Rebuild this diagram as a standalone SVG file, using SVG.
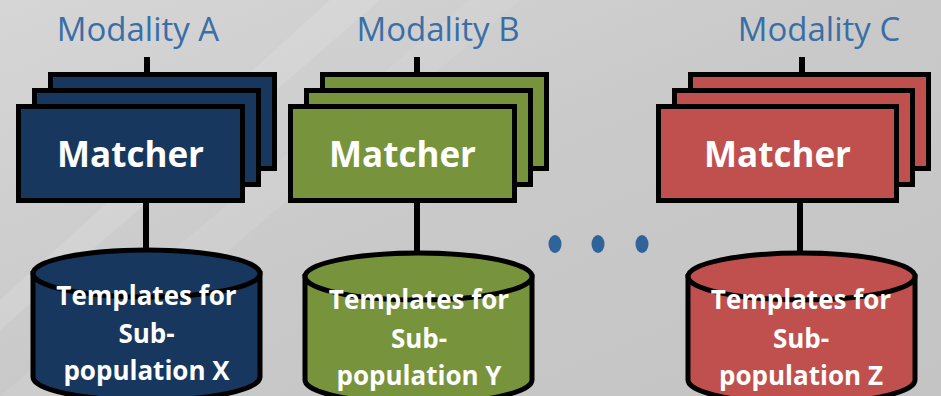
<svg xmlns="http://www.w3.org/2000/svg" width="941" height="396" viewBox="0 0 941 396">
<defs>
<linearGradient id="bg" x1="0" y1="0" x2="1" y2="1">
<stop offset="0" stop-color="#d6d6d6"/>
<stop offset="0.5" stop-color="#c9c9c9"/>
<stop offset="1" stop-color="#c4c4c4"/>
</linearGradient>
<style>
.lbl{font-family:"Open Sans","Liberation Sans",sans-serif;font-size:33px;fill:#3a6ea6;text-anchor:middle}
.mt{font-family:"Open Sans","Liberation Sans",sans-serif;font-size:35px;font-weight:bold;fill:#ffffff;text-anchor:middle}
.ct{font-family:"Open Sans","Liberation Sans",sans-serif;font-size:26px;font-weight:bold;fill:#ffffff;text-anchor:middle}
.bx{stroke:#000;stroke-width:5}
.navy{fill:#17375e}
.green{fill:#77933c}
.red{fill:#c0504d}
.conn line{stroke:#000;stroke-width:6}
</style>
</defs>
<rect width="941" height="396" fill="url(#bg)"/>
<polygon points="0,330 0,300 330,0 380,0" fill="#ffffff" opacity="0.12"/>
<polygon points="0,396 60,396 520,0 470,0" fill="#ffffff" opacity="0.08"/>

<g id="modalityA"><text class="lbl" x="138" y="41">Modality A</text></g>
<g id="modalityB"><text class="lbl" x="438" y="41">Modality B</text></g>
<g id="modalityC"><text class="lbl" x="819" y="41">Modality C</text></g>

<g class="conn" id="connectors">
<line x1="147" y1="57" x2="147" y2="74"/>
<line x1="417" y1="57" x2="417" y2="74"/>
<line x1="802" y1="57" x2="802" y2="74"/>
<line x1="146" y1="203" x2="146" y2="265"/>
<line x1="417" y1="203" x2="417" y2="267"/>
<line x1="800" y1="203" x2="800" y2="267"/>
</g>

<g id="matcherA">
<rect class="bx navy" x="50.5" y="74.5" width="224" height="94"/>
<rect class="bx navy" x="34.5" y="90.5" width="224" height="94"/>
<rect class="bx navy" x="18.5" y="106.5" width="224" height="94"/>
<text class="mt" x="130.5" y="167">Matcher</text>
</g>
<g id="matcherB">
<rect class="bx green" x="322.5" y="74.5" width="224" height="94"/>
<rect class="bx green" x="306.5" y="90.5" width="224" height="94"/>
<rect class="bx green" x="290.5" y="106.5" width="224" height="94"/>
<text class="mt" x="402.5" y="167">Matcher</text>
</g>
<g id="matcherC">
<rect class="bx red" x="690.5" y="74.5" width="238" height="94"/>
<rect class="bx red" x="674.5" y="90.5" width="238" height="94"/>
<rect class="bx red" x="658.5" y="106.5" width="238" height="94"/>
<text class="mt" x="777.5" y="167">Matcher</text>
</g>

<g id="dots" fill="#2f6399">
<ellipse cx="555" cy="244" rx="6.5" ry="9"/>
<ellipse cx="598" cy="244" rx="6.5" ry="9"/>
<ellipse cx="642" cy="244" rx="6.5" ry="9"/>
</g>

<g id="templatesX">
<path class="bx navy" d="M33,273.5 L33,377 A113.5,23.5 0 0 0 260,377 L260,273.5 Z"/>
<ellipse class="bx navy" cx="146.5" cy="273.5" rx="113.5" ry="23.5"/>
<text class="ct" x="146.5" y="305">Templates for</text>
<text class="ct" x="146.5" y="343">Sub-</text>
<text class="ct" x="146.5" y="380">population X</text>
</g>
<g id="templatesY">
<path class="bx green" d="M305,276.5 L305,380 A113.5,23.5 0 0 0 532,380 L532,276.5 Z"/>
<ellipse class="bx green" cx="418.5" cy="276.5" rx="113.5" ry="23.5"/>
<text class="ct" x="419" y="309">Templates for</text>
<text class="ct" x="419" y="348">Sub-</text>
<text class="ct" x="419" y="385">population Y</text>
</g>
<g id="templatesZ">
<path class="bx red" d="M688,276.5 L688,380 A113.5,23.5 0 0 0 915,380 L915,276.5 Z"/>
<ellipse class="bx red" cx="801.5" cy="276.5" rx="113.5" ry="23.5"/>
<text class="ct" x="801" y="309">Templates for</text>
<text class="ct" x="801" y="348">Sub-</text>
<text class="ct" x="801" y="385">population Z</text>
</g>
</svg>
